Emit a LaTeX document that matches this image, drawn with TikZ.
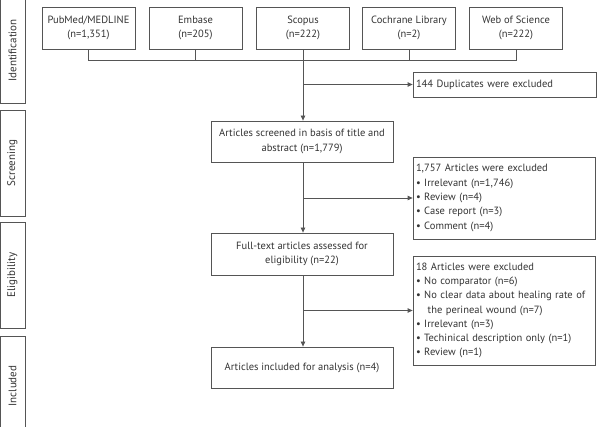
\documentclass[tikz,border=0pt]{standalone}
\usepackage{fontspec}
\setmainfont{PT Sans}
\usetikzlibrary{arrows.meta}
\definecolor{txt}{HTML}{333333}
\definecolor{ln}{HTML}{555555}
\begin{document}
\begin{tikzpicture}[x=1pt,y=-1pt,
  every node/.style={font=\fontsize{10.5}{14.3}\selectfont, text=txt},
  box/.style={draw=ln, line width=0.8pt, minimum width=#1, inner sep=0pt, align=center},
  side/.style={draw=ln, line width=0.8pt, minimum height=25, inner sep=0pt, rotate=90, font=\fontsize{11}{12}\selectfont},
  conn/.style={draw=ln, line width=0.8pt},
  arr/.style={conn, -{Triangle[length=5pt,width=4.5pt]}},
  excl/.style={draw=ln, line width=0.8pt, align=left, text width=176, inner xsep=3pt, inner ysep=0pt}
]
\useasboundingbox (0,0) rectangle (600,427);
% side labels
\node[side, minimum width=105] (sid) at (12.5,50.5) {Identification};
\node[side, minimum width=106] (ssc) at (12.5,163) {Screening};
\node[side, minimum width=106] (sel) at (12.5,275) {Eligibility};
\node[side, minimum width=100] (sin) at (12.5,386) {Included};
% sources
\node[box=93, minimum height=42] (pub) at (88.5,28) {PubMed/MEDLINE\\(n=1,351)};
\node[box=93, minimum height=42] (emb) at (195.5,28) {Embase\\(n=205)};
\node[box=93, minimum height=42] (sco) at (303,28) {Scopus\\(n=222)};
\node[box=93, minimum height=42] (coc) at (409,28) {Cochrane Library\\(n=2)};
\node[box=93, minimum height=42] (wos) at (516,28) {Web of Science\\(n=222)};
\coordinate (bus) at (0,60);
\draw[conn] (pub.south) -- (pub.south |- bus) -| (wos.south);
\draw[conn] (emb.south) -- (emb.south |- bus);
\draw[conn] (coc.south) -- (coc.south |- bus);
% main flow
\node[box=182, minimum height=41] (scr) at (302,141.5) {Articles screened in basis of title and\\abstract (n=1,779)};
\node[box=182, minimum height=42] (ft) at (302,254) {Full-text articles assessed for\\eligibility (n=22)};
\node[box=182, minimum height=41] (inc) at (302,367.5) {Articles included for analysis (n=4)};
\draw[arr] (sco.south) -- (sco.south |- scr.north);
\draw[arr] (scr.south -| sco.south) -- (ft.north -| sco.south);
\draw[arr] (ft.south -| sco.south) -- (inc.north -| sco.south);
% exclusions
\node[excl, minimum height=25, text width=177] (dup) at (504.5,84.5) {144 Duplicates were excluded};
\node[excl, minimum height=82] (ex1) at (504,198) {1,757 Articles were excluded\\
\textbullet\ Irrelevant (n=1,746)\\
\textbullet\ Review (n=4)\\
\textbullet\ Case report (n=3)\\
\textbullet\ Comment (n=4)};
\node[excl, minimum height=109] (ex2) at (504,310.5) {18 Articles were excluded\\
\textbullet\ No comparator (n=6)\\
\textbullet\ No~clear~data~about~healing~rate~of\\
\phantom{\textbullet}\ \ the perineal wound (n=7)\\
\textbullet\ Irrelevant (n=3)\\
\textbullet\ Techinical description only (n=1)\\
\textbullet\ Review (n=1)};
\draw[arr] (sco.south |- dup.west) -- (dup.west);
\draw[arr] (sco.south |- ex1.west) -- (ex1.west);
\draw[arr] (sco.south |- ex2.west) -- (ex2.west);
\end{tikzpicture}
\end{document}
